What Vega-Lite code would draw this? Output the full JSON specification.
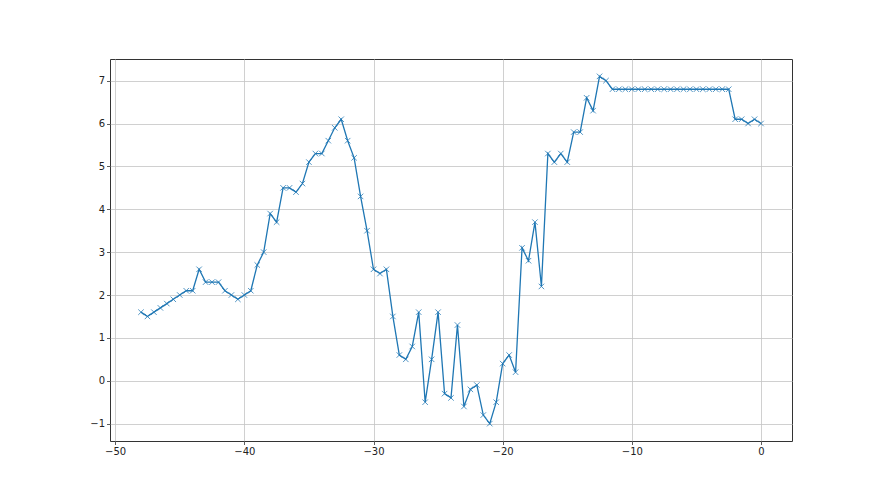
{
  "$schema": "https://vega.github.io/schema/vega-lite/v6.json",
  "width": 682,
  "height": 382,
  "autosize": {"type": "none"},
  "padding": {"left": 110, "top": 59, "right": 88, "bottom": 54},
  "background": "white",
  "config": {
    "view": {"stroke": "#333333", "strokeWidth": 1},
    "axis": {
      "domain": false,
      "grid": true,
      "gridColor": "#c4c4c4",
      "gridWidth": 0.8,
      "tickColor": "#333333",
      "tickSize": 3.5,
      "tickWidth": 0.8,
      "labelFont": "DejaVu Sans",
      "labelFontSize": 10,
      "labelColor": "#222222",
      "labelPadding": 2,
      "title": null
    }
  },
  "data": {
    "values": [
      {"x": -48, "y": 1.6}, {"x": -47.5, "y": 1.5}, {"x": -47, "y": 1.6}, {"x": -46.5, "y": 1.7},
      {"x": -46, "y": 1.8}, {"x": -45.5, "y": 1.9}, {"x": -45, "y": 2.0}, {"x": -44.5, "y": 2.1},
      {"x": -44, "y": 2.1}, {"x": -43.5, "y": 2.6}, {"x": -43, "y": 2.3}, {"x": -42.5, "y": 2.3},
      {"x": -42, "y": 2.3}, {"x": -41.5, "y": 2.1}, {"x": -41, "y": 2.0}, {"x": -40.5, "y": 1.9},
      {"x": -40, "y": 2.0}, {"x": -39.5, "y": 2.1}, {"x": -39, "y": 2.7}, {"x": -38.5, "y": 3.0},
      {"x": -38, "y": 3.9}, {"x": -37.5, "y": 3.7}, {"x": -37, "y": 4.5}, {"x": -36.5, "y": 4.5},
      {"x": -36, "y": 4.4}, {"x": -35.5, "y": 4.6}, {"x": -35, "y": 5.1}, {"x": -34.5, "y": 5.3},
      {"x": -34, "y": 5.3}, {"x": -33.5, "y": 5.6}, {"x": -33, "y": 5.9}, {"x": -32.5, "y": 6.1},
      {"x": -32, "y": 5.6}, {"x": -31.5, "y": 5.2}, {"x": -31, "y": 4.3}, {"x": -30.5, "y": 3.5},
      {"x": -30, "y": 2.6}, {"x": -29.5, "y": 2.5}, {"x": -29, "y": 2.6}, {"x": -28.5, "y": 1.5},
      {"x": -28, "y": 0.6}, {"x": -27.5, "y": 0.5}, {"x": -27, "y": 0.8}, {"x": -26.5, "y": 1.6},
      {"x": -26, "y": -0.5}, {"x": -25.5, "y": 0.5}, {"x": -25, "y": 1.6}, {"x": -24.5, "y": -0.3},
      {"x": -24, "y": -0.4}, {"x": -23.5, "y": 1.3}, {"x": -23, "y": -0.6}, {"x": -22.5, "y": -0.2},
      {"x": -22, "y": -0.1}, {"x": -21.5, "y": -0.8}, {"x": -21, "y": -1.0}, {"x": -20.5, "y": -0.5},
      {"x": -20, "y": 0.4}, {"x": -19.5, "y": 0.6}, {"x": -19, "y": 0.2}, {"x": -18.5, "y": 3.1},
      {"x": -18, "y": 2.8}, {"x": -17.5, "y": 3.7}, {"x": -17, "y": 2.2}, {"x": -16.5, "y": 5.3},
      {"x": -16, "y": 5.1}, {"x": -15.5, "y": 5.3}, {"x": -15, "y": 5.1}, {"x": -14.5, "y": 5.8},
      {"x": -14, "y": 5.8}, {"x": -13.5, "y": 6.6}, {"x": -13, "y": 6.3}, {"x": -12.5, "y": 7.1},
      {"x": -12, "y": 7.0}, {"x": -11.5, "y": 6.8}, {"x": -11, "y": 6.8}, {"x": -10.5, "y": 6.8},
      {"x": -10, "y": 6.8}, {"x": -9.5, "y": 6.8}, {"x": -9, "y": 6.8}, {"x": -8.5, "y": 6.8},
      {"x": -8, "y": 6.8}, {"x": -7.5, "y": 6.8}, {"x": -7, "y": 6.8}, {"x": -6.5, "y": 6.8},
      {"x": -6, "y": 6.8}, {"x": -5.5, "y": 6.8}, {"x": -5, "y": 6.8}, {"x": -4.5, "y": 6.8},
      {"x": -4, "y": 6.8}, {"x": -3.5, "y": 6.8}, {"x": -3, "y": 6.8}, {"x": -2.5, "y": 6.8},
      {"x": -2, "y": 6.1}, {"x": -1.5, "y": 6.1}, {"x": -1, "y": 6.0}, {"x": -0.5, "y": 6.1},
      {"x": 0, "y": 6.0}
    ]
  },
  "encoding": {
    "x": {
      "field": "x",
      "type": "quantitative",
      "scale": {"domain": [-50.4, 2.4], "nice": false, "zero": false},
      "axis": {"values": [-50, -40, -30, -20, -10, 0], "format": "d"}
    },
    "y": {
      "field": "y",
      "type": "quantitative",
      "scale": {"domain": [-1.405, 7.505], "nice": false, "zero": false},
      "axis": {"values": [-1, 0, 1, 2, 3, 4, 5, 6, 7], "format": "d"}
    }
  },
  "layer": [
    {"mark": {"type": "line", "color": "#1f77b4", "strokeWidth": 1.3}},
    {
      "mark": {
        "type": "point",
        "shape": "M-1,-1L1,1M-1,1L1,-1",
        "filled": false,
        "color": "#1f77b4",
        "strokeWidth": 0.9,
        "size": 30,
        "opacity": 0.85
      }
    }
  ]
}
